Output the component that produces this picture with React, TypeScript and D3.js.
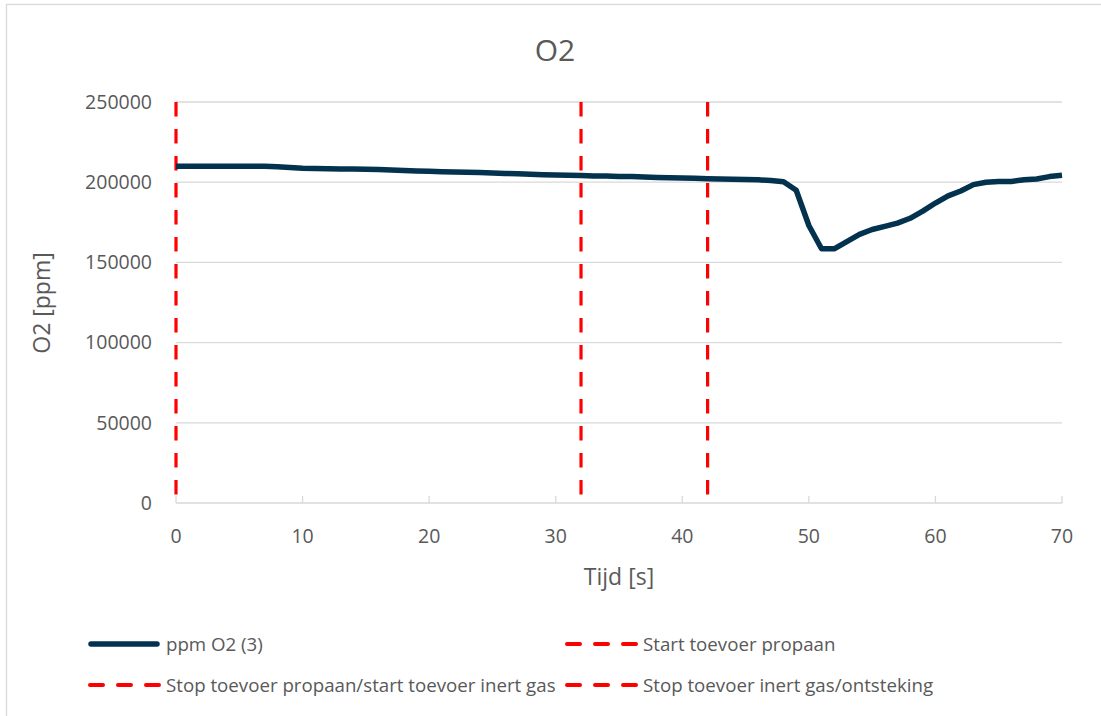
import React from "react";
import * as d3 from "d3";

const TIME_S: number[] = Array.from({ length: 71 }, (_, i) => i);
const O2_PPM: number[] = [
  210000, 210000, 210000, 210000, 210000, 210000, 210000, 209900, 209600, 209100,
  208700, 208500, 208400, 208300, 208200, 208100, 207900, 207600, 207300, 207000,
  206800, 206500, 206300, 206200, 206000, 205800, 205500, 205300, 205000, 204700,
  204500, 204300, 204100, 203900, 203800, 203600, 203500, 203200, 203000, 202800,
  202600, 202400, 202200, 202000, 201800, 201700, 201500, 201000, 200300, 195000,
  173000, 158500, 158500, 163000, 167500, 170500, 172500, 174500, 177500, 182000,
  187000, 191500, 194500, 198500, 200000, 200500, 200500, 201500, 202000, 203500,
  204300,
];
const EVENT_TIMES: number[] = [0, 32, 42];
const X_TICKS: number[] = [0, 10, 20, 30, 40, 50, 60, 70];
const Y_TICKS: number[] = [0, 50000, 100000, 150000, 200000, 250000];
const SERIES_NAME = "ppm O2 (3)";
const EVENT_NAMES: string[] = [
  "Start toevoer propaan",
  "Stop toevoer propaan/start toevoer inert gas",
  "Stop toevoer inert gas/ontsteking",
];

const W = 1101;
const H = 716;
const FONT = "'Open Sans', 'Noto Sans', sans-serif";
const TEXT = "#595959";
const NAVY = "#03324f";
const RED = "#ff0000";
const GRID = "#d9d9d9";

export default function App() {
  const x = d3.scaleLinear().domain([0, 70]).range([176, 1062]);
  const y = d3.scaleLinear().domain([0, 250000]).range([503, 102]);
  const line = d3
    .line<number>()
    .x((_, i) => x(TIME_S[i]))
    .y((d) => y(d));
  const path = line(O2_PPM) || "";

  const legendItems = [
    { name: SERIES_NAME, solid: true, lx: 88, ly: 644 },
    { name: EVENT_NAMES[0], solid: false, lx: 565, ly: 644 },
    { name: EVENT_NAMES[1], solid: false, lx: 88, ly: 685 },
    { name: EVENT_NAMES[2], solid: false, lx: 565, ly: 685 },
  ];

  return (
    <svg
      width={W}
      height={H}
      style={{ position: "absolute", left: 0, top: 0, background: "#fff" }}
      fontFamily={FONT}
    >
      <rect x={6.5} y={4.5} width={1110} height={730} fill="#fff" stroke={GRID} strokeWidth={1.3} />
      <text x={555} y={61} textAnchor="middle" fontSize={30} fill={TEXT}>
        O2
      </text>
      {Y_TICKS.map((t) => (
        <g key={t}>
          <line x1={176} x2={1062} y1={y(t)} y2={y(t)} stroke={GRID} strokeWidth={1.3} />
          <text x={152} y={y(t)} dy="0.35em" textAnchor="end" fontSize={19.5} fill={TEXT}>
            {t}
          </text>
        </g>
      ))}
      {X_TICKS.map((t) => (
        <g key={t}>
          <line x1={x(t)} x2={x(t)} y1={503} y2={496} stroke={GRID} strokeWidth={1.3} />
          <text x={x(t)} y={543} textAnchor="middle" fontSize={19.5} fill={TEXT}>
            {t}
          </text>
        </g>
      ))}
      <text x={619} y={585} textAnchor="middle" fontSize={23} fill={TEXT}>
        Tijd [s]
      </text>
      <text
        transform={`translate(50,303) rotate(-90)`}
        textAnchor="middle"
        fontSize={23}
        fill={TEXT}
      >
        O2 [ppm]
      </text>
      {EVENT_TIMES.map((t) => (
        <line
          key={t}
          x1={x(t)}
          x2={x(t)}
          y1={y(250000)}
          y2={y(0)}
          stroke={RED}
          strokeWidth={3.2}
          strokeDasharray="14.5,12.5"
        />
      ))}
      <path d={path} fill="none" stroke={NAVY} strokeWidth={5.5} strokeLinejoin="round" />
      {legendItems.map((it) => (
        <g key={it.name}>
          {it.solid ? (
            <line x1={it.lx + 3} x2={it.lx + 69} y1={it.ly} y2={it.ly} stroke={NAVY} strokeWidth={5.5} strokeLinecap="round" />
          ) : (
            <line
              x1={it.lx + 2}
              x2={it.lx + 72}
              y1={it.ly}
              y2={it.ly}
              stroke={RED}
              strokeWidth={4}
              strokeDasharray="13,15"
              strokeLinecap="round"
            />
          )}
          <text x={it.lx + 78} y={it.ly} dy="0.35em" fontSize={18.7} fill={TEXT}>
            {it.name}
          </text>
        </g>
      ))}
    </svg>
  );
}
